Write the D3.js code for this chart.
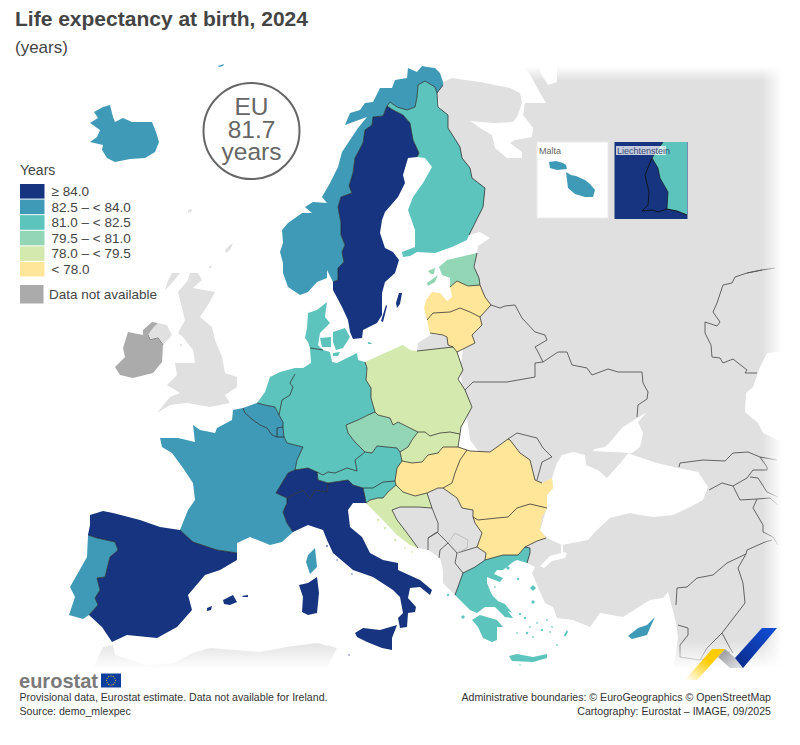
<!DOCTYPE html>
<html>
<head>
<meta charset="utf-8">
<script src="https://cdn.jsdelivr.net/npm/d3@7"></script>
<style>
  body { margin: 0; background: #fff; }
  text { font-family: "Liberation Sans", Arial, sans-serif; }
</style>
</head>
<body>
<svg id="map" width="800" height="745"></svg>
<script>
/* DATA */
const countryCodes = ["SE","ES","IT","CH","LI","NO","IS","FR","BE","LU","PT","MT","CY","DE","NL","DK","AT","SI","FI","EL","CZ","EE","PL","SK","HR","LV","LT","HU","RO","BG","IE"];
const lifeExpectancy = [84.1,84.0,84.1,84.3,84.4,83.6,83.0,83.0,82.6,83.5,82.7,83.5,83.4,81.5,82.4,81.9,81.9,82.2,82.2,81.8,80.0,79.6,79.0,78.9,78.9,76.6,77.8,77.1,76.6,75.9,null];
const classBreaks = [78, 79.5, 81, 82.5, 84];
const classColors = ["#ffe699","#d3e9ae","#93d6b5","#5cc4bd","#3f9ab7","#16347f"];
const legendLabels = ["≥ 84.0","82.5 – < 84.0","81.0 – < 82.5","79.5 – < 81.0","78.0 – < 79.5","< 78.0"];
const noDataColor = "#ababab";
const landColor = "#e0e0e0";

/* SHARED BORDERS, in map units */
const NO_SE = [[387,106],[383,116],[373,117],[372,125],[365,130],[363,143],[355,158],[353,173],[349,186],[352,193],[341,197],[338,207],[341,223],[341,235],[345,245],[342,252],[344,262],[338,268],[338,280],[333,282]];
const SE_FI = [[417,157],[419,153],[413,140],[410,123],[403,115],[393,110],[387,106]];
const FI_NO = [[387,106],[390,102],[397,107],[407,110],[415,107],[417,97],[418,85],[425,81],[435,87],[437,93]];
const NO_RU = [[437,93],[443,85]];
const FI_RU = [[437,93],[438,107],[448,115],[448,128],[460,147],[462,158],[470,168],[472,178],[485,188],[483,207],[469,235]];
const DK_DE = [[310,348],[323,350]];
const DE_PL = [[365,362],[367,368],[366,380],[371,388],[371,398],[375,412]];
const DE_CZ = [[375,412],[368,415],[358,420],[346,425],[348,433],[355,442],[365,452]];
const DE_AT = [[365,452],[355,460],[357,471],[347,468],[335,473],[328,472],[323,475],[317,472]];
const DE_CH = [[317,472],[308,468],[295,470]];
const DE_FR = [[295,470],[297,460],[303,447],[287,443],[284,437]];
const DE_LU = [[284,437],[283,427]];
const DE_BE = [[283,427],[283,422],[279,415]];
const DE_NL = [[279,415],[282,400],[290,395],[293,387],[290,383],[295,374]];
const BE_NL = [[257,403],[265,405],[275,407],[279,415]];
const BE_FR = [[243,408],[245,413],[253,420],[260,425],[267,428],[272,435],[277,437]];
const BE_LU = [[283,427],[277,428],[277,437]];
const LU_FR = [[277,437],[284,437]];
const ES_FR = [[180,530],[193,542],[217,550],[237,553]];
const ES_PT = [[88,535],[97,538],[115,542],[118,550],[110,557],[105,577],[97,578],[100,590],[95,598],[98,605],[89,615]];
const FR_IT = [[293,532],[287,523],[283,512],[287,503],[287,498]];
const FR_CH = [[295,470],[288,473],[276,493],[287,498]];
const CH_IT = [[287,498],[303,490],[310,499],[315,490],[327,492],[328,483]];
const CH_AT = [[328,483],[318,480],[317,472]];
const IT_AT = [[328,483],[348,480],[353,485],[363,488]];
const IT_SI = [[363,488],[365,497],[366,503]];
const AT_CZ = [[365,452],[372,453],[377,446],[397,448],[400,452]];
const AT_SK = [[400,452],[402,461]];
const AT_HU = [[402,461],[397,468],[395,481]];
const AT_SI = [[395,481],[383,482],[373,488],[363,488]];
const CZ_PL = [[375,412],[378,415],[390,418],[393,425],[398,422],[408,427],[418,432]];
const CZ_SK = [[418,432],[412,440],[408,447],[400,452]];
const SK_PL = [[418,432],[425,432],[430,436],[440,433],[450,432],[460,434]];
const SK_UA = [[460,434],[458,447]];
const HU_SK = [[402,461],[412,463],[422,462],[428,455],[438,453],[443,447],[453,447],[458,447]];
const HU_UA = [[458,447],[467,450]];
const HU_RO = [[467,450],[460,460],[455,473],[452,483],[443,488]];
const HU_RS = [[443,488],[438,488],[427,493]];
const HU_HR = [[427,493],[415,496],[403,492],[396,485]];
const HU_SI = [[396,485],[395,481]];
const SI_HR = [[366,503],[370,500],[378,498],[383,498],[388,492],[396,485]];
const HR_RS = [[427,493],[432,508]];
const HR_BA = [[432,508],[418,507],[400,507],[392,510],[397,520],[407,533],[418,548]];
const RO_UA = [[467,450],[470,451],[490,452],[497,447],[508,439]];
const RO_MD = [[508,439],[510,440],[520,453],[530,460],[535,480],[542,483]];
const RO_RS = [[443,488],[457,498],[462,508],[473,510],[473,517]];
const RO_BG = [[547,508],[530,504],[517,508],[508,517],[497,518],[478,520],[473,517]];
const BG_RS = [[477,547],[482,533],[475,523],[473,517]];
const BG_MK = [[485,560],[486,553],[477,547]];
const BG_GR = [[525,547],[518,555],[503,555],[485,560]];
const BG_TR = [[546,538],[537,541],[525,547]];
const GR_TR = [[525,547],[530,548],[530,553],[527,563]];
const GR_MK = [[463,573],[475,567],[485,560]];
const GR_AL = [[463,573],[455,595]];
const PL_RU = [[417,351],[453,347]];
const PL_LT = [[453,347],[457,352]];
const PL_BY = [[457,352],[463,370],[458,379],[465,390]];
const PL_UA = [[465,390],[472,407],[461,427],[460,434]];
const LT_LV = [[427,320],[433,313],[450,312],[460,308],[470,312],[480,317]];
const LT_RU = [[430,333],[443,335],[447,337],[448,345],[453,347]];
const LT_BY = [[457,352],[467,347],[475,343],[472,335],[482,325],[480,317]];
const LV_EE = [[450,287],[457,281],[468,286],[480,285]];
const LV_RU = [[480,285],[485,297],[491,305]];
const LV_BY = [[491,305],[480,317]];
const EE_RU = [[477,253],[474,267],[479,278],[480,285]];

const rev = a => a.slice().reverse();

// coast pieces join the borders above into closed rings
const countryRings = {
  SE: [[...NO_SE, [333,290],[342,307],[348,320],[350,332],[353,339],[362,338],[363,330],[377,323],[382,315],[382,293],[385,282],[395,273],[399,260],[393,252],[385,248],[380,233],[382,220],[385,212],[398,197],[405,183],[403,175],[408,158], ...SE_FI],
       [[399,293],[402,293],[400,304],[397,308],[396,303]], [[386,305],[387,306],[383,322],[381,321]]],
  FI: [[...FI_NO, ...FI_RU, [467,240],[452,247],[435,253],[417,252],[410,256],[403,257],[402,252],[415,247],[415,230],[408,210],[413,197],[423,183],[432,167],[425,158], ...SE_FI]],
  NO: [[[443,85],[443,82],[440,73],[435,68],[427,67],[422,66],[417,72],[408,68],[407,78],[395,80],[392,88],[380,88],[373,102],[365,103],[360,110],[350,113],[345,125],[367,117],[358,128],[350,140],[342,152],[338,167],[330,183],[322,197],[327,203],[313,202],[305,207],[312,213],[302,213],[288,223],[282,230],[283,243],[280,252],[283,263],[283,273],[288,287],[300,295],[308,292],[317,282],[327,278],[327,270],[333,282], ...rev(NO_SE), ...FI_NO, ...NO_RU],
       [[218,66],[224,64],[223,66],[219,67]]],
  IS: [[[94,112],[103,107],[110,105],[113,117],[115,122],[123,118],[132,122],[143,122],[152,122],[156,132],[159,142],[155,152],[145,158],[130,159],[115,162],[107,158],[102,150],[103,145],[90,142],[97,137],[100,130],[90,123],[98,118]]],
  DK: [[[327,302],[325,317],[330,323],[320,333],[318,345],[323,350],[310,348],[308,342],[305,338],[307,328],[308,313],[317,310]],
       [[320,338],[331,337],[331,347],[322,347]], [[333,332],[345,328],[350,337],[343,348],[336,350],[333,342]], [[368,342],[372,343],[371,344],[368,344]], [[333,353],[340,352],[338,356],[333,356]]],
  DE: [[...DK_DE, [330,352],[332,362],[337,363],[353,355],[357,353],[358,360], ...DE_PL, ...DE_CZ, ...DE_AT, ...DE_CH, ...DE_FR, ...DE_LU, ...DE_BE, ...DE_NL, [295,368],[303,368],[311,363]]],
  NL: [[[295,368],[280,372],[270,377],[265,392],[257,403], ...BE_NL, ...DE_NL]],
  BE: [[[243,408], ...BE_NL, ...DE_BE.slice().reverse(), ...BE_LU, ...rev(BE_FR)]],
  LU: [[...BE_LU, [284,437]]],
  FR: [[[243,408],[233,410],[232,420],[217,428],[215,433],[200,430],[193,425],[195,442],[178,438],[160,438],[162,447],[172,453],[183,468],[193,483],[195,500],[188,510], ...ES_FR, [237,543],[250,537],[270,545],[282,542], ...FR_IT, ...rev(FR_CH), ...DE_FR, ...rev(LU_FR), ...rev(BE_FR)],
       [[315,548],[317,567],[310,574],[306,562],[308,555]]],
  CH: [[...DE_CH, ...FR_CH.slice(1), ...CH_IT, ...CH_AT]],
  LI: [[[317,474],[318,474],[318,476],[317,476]]],
  ES: [[[180,530],[160,527],[140,520],[113,513],[103,511],[90,515],[90,525], ...ES_PT, [102,627],[112,642],[127,635],[157,638],[177,627],[192,610],[188,595],[205,575],[220,570],[237,560], ...rev(ES_FR)],
       [[223,600],[233,595],[237,602],[230,605],[224,604]], [[242,596],[248,595],[248,597],[243,597]], [[207,608],[212,606],[211,610],[207,611]]],
  PT: [[...ES_PT, [83,619],[69,615],[75,597],[70,587],[87,557]]],
  IT: [[...FR_IT, ...CH_IT, ...IT_AT, ...IT_SI, [353,503],[348,510],[350,527],[362,537],[370,553],[383,560],[398,563],[398,570],[420,580],[432,590],[430,595],[420,587],[410,588],[408,598],[416,607],[415,612],[408,613],[407,627],[400,628],[398,618],[403,613],[400,597],[393,590],[373,577],[353,570],[333,553],[327,540],[323,530],[308,525]],
       [[355,633],[363,628],[380,630],[397,625],[392,638],[392,650],[382,648],[367,642],[357,637]],
       [[317,577],[319,593],[317,613],[308,615],[302,612],[303,597],[299,585],[308,583]]],
  AT: [[...rev(DE_AT), ...AT_CZ, ...AT_SK, ...AT_HU, ...AT_SI, ...rev(IT_AT), ...CH_AT]],
  SI: [[...AT_SI, ...IT_SI, ...SI_HR, ...HU_SI]],
  HR: [[...rev(HU_HR), ...HR_RS, ...HR_BA, [410,545],[397,535],[380,517],[375,512], ...SI_HR]],
  CZ: [[...CZ_PL, ...CZ_SK, ...rev(AT_CZ), ...rev(DE_CZ)]],
  SK: [[...SK_PL, ...SK_UA, ...rev(HU_SK), ...rev(AT_SK), ...rev(CZ_SK)]],
  PL: [[[365,362],[387,352],[403,345],[410,350], ...PL_RU, ...PL_LT, ...PL_BY, ...PL_UA, ...rev(SK_PL), ...rev(CZ_PL), ...rev(DE_PL)]],
  HU: [[...HU_SK, ...HU_UA, ...HU_RO, ...HU_RS, ...HU_HR, ...HU_SI, ...rev(AT_HU)]],
  RO: [[...RO_UA, ...RO_MD, [552,478],[553,488],[547,495], ...RO_BG, ...rev(RO_RS), ...rev(HU_RO)]],
  BG: [[...rev(RO_BG), [542,517],[540,530], ...BG_TR, ...BG_GR, ...BG_MK, ...BG_RS]],
  EL: [[...GR_MK, ...rev(BG_GR), ...GR_TR, [517,560],[513,562],[503,570],[497,570],[494,574],[503,578],[500,582],[492,579],[487,577],[487,583],[492,595],[497,600],[507,610],[513,618],[505,617],[495,607],[485,607],[477,613],[470,610],[460,600],[455,595]],
       [[472,620],[480,615],[497,620],[503,627],[497,627],[497,640],[492,642],[483,638],[478,627]],
       [[509,656],[517,654],[533,657],[547,654],[547,658],[533,662],[512,661]],
       [[495,600],[505,604],[512,613],[506,610]], [[567,630],[568,632],[565,637],[564,635]]],
  LT: [[...LT_LV, ...rev(LT_BY), ...rev(PL_LT), ...rev(LT_RU), [429,330]]],
  LV: [[[450,287], ...LV_EE.slice(1), ...LV_RU, ...LV_BY, ...rev(LT_LV), [424,308],[426,300],[432,292],[440,293],[447,301],[452,297]]],
  EE: [[[439,267],[447,260],[477,253], ...EE_RU.slice(1), ...rev(LV_EE), [450,278],[442,275]],
       [[427,283],[438,275],[435,282],[428,286]], [[428,271],[435,268],[434,274],[431,274]]],
  IE: [[[143,330],[152,322],[158,323],[153,328],[148,335],[150,340],[158,338],[163,345],[162,362],[153,373],[133,378],[120,375],[115,367],[125,357],[123,348],[128,332],[143,335]]],
  CY: [[[655,617],[650,628],[647,635],[632,639],[628,636],[638,628],[647,625]]]
};

// little islands: x, y, radius
const islandDots = {
  EL: [[463,617,2],[448,595,1.5],[508,568,2],[518,579,1.5],[495,587,1],[533,588,3],[533,602,2],[520,614,1.5],[525,618,1.5],[530,627,1],[537,623,1],[547,620,1],[552,627,1],[517,633,1],[527,633,1.5],[533,637,1],[542,630,1.5],[550,632,1],[557,645,1],[520,665,.8]],
  HR: [[378,520,1.5],[385,528,1.5],[395,540,1.5],[405,548,1],[412,552,1]],
  IT: [[327,546,1],[337,560,.8],[349,655,.8],[352,574,.8]],
  FI: [[406,253,1.5],[411,254,1.5]]
};

// everything else, grey context
const eastLand = [[437,93],[443,82],[452,78],[465,80],[480,82],[495,85],[510,88],[520,93],[522,103],[517,117],[513,122],[493,123],[470,121],[480,128],[492,135],[495,148],[507,158],[522,158],[522,152],[510,143],[515,140],[532,137],[533,128],[523,115],[525,103],[546,103],[540,93],[533,80],[526,68],[540,66],[540,72],[548,85],[557,82],[557,60],[800,60],[800,668],[673,668],[676,653],[678,637],[676,623],[672,607],[668,592],[663,598],[650,600],[623,617],[600,613],[590,627],[573,620],[557,618],[553,607],[545,603],[540,592],[532,573],[535,567],[527,563],[520,530],[500,480],[470,440],[460,370],[477,253],[478,246],[490,238],[480,232],[469,235],[450,150]];
const blackSea = [[552,478],[557,463],[562,455],[573,452],[585,455],[586,465],[598,470],[607,478],[623,460],[628,453],[633,455],[657,463],[678,468],[698,472],[708,487],[703,500],[690,507],[673,515],[653,517],[640,515],[630,513],[610,518],[597,530],[588,540],[562,545],[547,538],[540,530],[547,507],[547,495],[553,488]];
const azovSea = [[647,412],[638,422],[643,433],[640,447],[632,453],[593,451],[594,449],[605,447],[610,442],[623,427]];
const marmara = [[561,545],[563,545],[563,552],[567,553],[565,558],[552,561],[544,568],[540,566],[550,556],[561,553]];
const caspian = [[800,350],[767,353],[760,367],[753,387],[746,393],[745,412],[758,423],[763,433],[778,440],[800,440]];
const africa = [[93,668],[103,647],[113,645],[115,655],[147,665],[173,663],[193,653],[210,648],[260,652],[287,647],[317,643],[337,648],[327,668]];
const balkans = [[392,510],[400,507],[418,507],[432,508],[427,493],[438,488],[443,488],[457,498],[462,508],[473,510],[473,517],[475,523],[482,533],[477,547],[486,553],[485,560],[475,567],[463,573],[455,595],[443,583],[443,570],[440,558],[428,550],[418,548],[407,533],[397,520]];
const kaliningrad = [[418,343],[432,334],[447,336],[452,347],[417,351]];
const britain = [[190,273],[198,273],[202,280],[193,288],[215,292],[208,305],[200,317],[212,327],[215,340],[222,357],[225,373],[237,377],[237,387],[225,395],[230,403],[210,407],[187,403],[170,405],[157,413],[170,397],[180,393],[167,385],[177,375],[175,363],[195,363],[193,350],[183,337],[178,333],[185,320],[182,308],[178,292],[188,280]];
const northIreland = [[153,328],[158,323],[167,325],[172,335],[163,345],[158,338],[150,340],[148,335]];
const hebrides = [[172,273],[180,273],[172,283],[165,290],[167,283]];
const paleIslands = [[[188,210],[192,209],[191,212],[188,213]],[[225,250],[230,245],[233,243],[230,250],[226,253]],[[208,267],[212,265],[211,268]],[[180,344],[182,344],[181,347]]];

// land borders outside the EU
const greyBorders = [
  [[491,305],[500,308],[505,306],[515,305],[522,318],[535,332],[545,335],[547,340],[535,347],[537,350],[543,362],[558,352],[567,352],[572,365],[587,368],[592,375],[608,369],[618,372],[642,372],[643,383],[648,392],[647,399],[638,405],[637,417]],
  [[543,362],[535,363],[535,377],[507,382],[473,382],[465,390]],
  [[508,439],[517,433],[537,438],[543,448],[552,457],[542,462],[537,480]],
  [[762,270],[747,273],[735,277],[732,283],[723,285],[717,303],[713,312],[720,322],[717,326],[705,322],[705,333],[711,345],[712,357],[720,358],[723,363],[733,359],[747,370],[745,373],[757,373]],
  [[747,273],[762,270],[775,268]],
  [[679,467],[680,463],[703,460],[725,461],[733,453],[748,452],[760,457],[777,460]],
  [[760,457],[767,467],[767,470],[753,470],[747,478],[733,486]],
  [[709,490],[722,483],[733,486],[740,500],[757,499],[753,508],[763,525],[763,532],[773,537],[778,545]],
  [[750,477],[758,478],[767,492],[778,497]],
  [[757,499],[770,498],[778,505]],
  [[676,605],[677,588],[687,587],[697,578],[713,575],[727,563],[746,554],[747,550],[765,542],[772,540]],
  [[746,554],[738,568],[743,583],[745,603],[722,633],[707,648],[700,660]],
  [[678,625],[688,628],[688,635],[680,645],[680,657],[700,660],[730,652]],
  [[722,633],[730,648],[733,653]],
  [[438,523],[438,532],[428,538],[428,550]],
  [[432,508],[438,523]],
  [[477,547],[467,550],[457,553],[455,563],[463,573]],
  [[428,538],[437,532],[448,543],[440,550],[439,558]],
  [[457,553],[448,543]],
  [[143,335],[148,335],[150,340],[158,338],[163,345]],
  [[143,330],[148,335]]
];
const kosovoBorder = [[448,543],[455,533],[468,540],[467,548],[457,553]];

const euBorders = [NO_SE,SE_FI,FI_NO,NO_RU,FI_RU,DK_DE,DE_PL,DE_CZ,DE_AT,DE_CH,DE_FR,DE_LU,DE_BE,DE_NL,BE_NL,BE_FR,BE_LU,LU_FR,ES_FR,ES_PT,FR_IT,FR_CH,CH_IT,CH_AT,IT_AT,IT_SI,AT_CZ,AT_SK,AT_HU,AT_SI,CZ_PL,CZ_SK,SK_PL,SK_UA,HU_SK,HU_UA,HU_RO,HU_RS,HU_HR,HU_SI,SI_HR,HR_RS,HR_BA,RO_UA,RO_MD,RO_RS,RO_BG,BG_RS,BG_MK,BG_GR,BG_TR,GR_TR,GR_MK,GR_AL,PL_RU,PL_LT,PL_BY,PL_UA,LT_LV,LT_RU,LT_BY,LV_EE,LV_RU,LV_BY,EE_RU];

/* SCALES AND HELPERS */
const color = d3.scaleThreshold().domain(classBreaks).range(classColors);
const fillOf = code => {
  const v = lifeExpectancy[countryCodes.indexOf(code)];
  return v == null ? noDataColor : color(v);
};
const path = d3.geoPath(d3.geoIdentity());
const polygon = rings => ({type: "MultiPolygon", coordinates: rings.map(r => [[...r, r[0]]])});
const diamond = ([x, y, r]) => [[x - r, y], [x, y - r], [x + r, y], [x, y + r]];

const svg = d3.select("#map");
const defs = svg.append("defs");

function fade(id, x1, y1, x2, y2) {
  const g = defs.append("linearGradient").attr("id", id)
    .attr("x1", x1).attr("y1", y1).attr("x2", x2).attr("y2", y2);
  g.append("stop").attr("offset", 0).attr("stop-color", "#fff").attr("stop-opacity", 0);
  g.append("stop").attr("offset", 1).attr("stop-color", "#fff").attr("stop-opacity", 1);
}
fade("fadeTop", 0, 1, 0, 0);
fade("fadeRight", 0, 0, 1, 0);
fade("fadeBottom", 0, 0, 0, 1);

/* BACKGROUND */
const back = svg.append("g");
const drawFill = (g, rings, fill) => g.append("path").attr("d", path(polygon(rings))).attr("fill", fill);

drawFill(back, [eastLand, balkans, kaliningrad, africa, britain, northIreland, hebrides, ...paleIslands], landColor);
drawFill(back, [blackSea, azovSea, marmara, caspian], "#fff");

back.selectAll(".grey-border")
  .data(greyBorders)
  .enter()
  .append("path")
    .attr("class", "grey-border")
    .attr("d", d => path({type: "LineString", coordinates: d}))
    .attr("fill", "none")
    .attr("stroke", "#555")
    .attr("stroke-width", 0.9);

back.append("path")
  .attr("d", path({type: "LineString", coordinates: kosovoBorder}))
  .attr("fill", "none").attr("stroke", "#bbb").attr("stroke-width", 0.9);

// map edges melt into the page
back.append("rect").attr("x", 520).attr("y", 66).attr("width", 280).attr("height", 15).attr("fill", "url(#fadeTop)");
back.append("rect").attr("x", 520).attr("y", 58).attr("width", 280).attr("height", 8).attr("fill", "#fff");
back.append("rect").attr("x", 762).attr("y", 58).attr("width", 20).attr("height", 612).attr("fill", "url(#fadeRight)");
back.append("rect").attr("x", 782).attr("y", 58).attr("width", 18).attr("height", 612).attr("fill", "#fff");
back.append("rect").attr("x", 80).attr("y", 640).attr("width", 720).attr("height", 29).attr("fill", "url(#fadeBottom)");

/* COUNTRIES */
const countries = svg.append("g");

countries.selectAll(".country")
  .data(countryCodes.filter(c => countryRings[c]))
  .enter()
  .append("path")
    .attr("class", "country")
    .attr("d", c => path(polygon([...countryRings[c], ...(islandDots[c] || []).map(diamond)])))
    .attr("fill", fillOf);

countries.selectAll(".border")
  .data(euBorders)
  .enter()
  .append("path")
    .attr("class", "border")
    .attr("d", d => path({type: "LineString", coordinates: d}))
    .attr("fill", "none")
    .attr("stroke", "#222")
    .attr("stroke-opacity", 0.8)
    .attr("stroke-width", 0.9);

/* INSETS */
const maltaShape = [[[549,162],[556,161],[563,163],[566,165],[567,169],[557,170],[550,168]],[[566,172],[571,175],[576,176],[585,180],[590,184],[595,190],[593,197],[585,197],[575,194],[568,188],[567,180]]];
const liTeal = [[663,142],[687,142],[687,215],[677,211],[667,209],[668,192],[660,178],[658,168],[652,158]];
const liBorder = [[652,158],[645,175],[649,192],[648,205],[642,211],[653,210],[658,212],[667,209]];

const insets = svg.append("g");
insets.append("rect").attr("x", 537).attr("y", 142).attr("width", 71).attr("height", 76)
  .attr("fill", "#fff").attr("stroke", "#ececec");
drawFill(insets, maltaShape, fillOf("MT"));
insets.append("rect").attr("x", 614.5).attr("y", 142).attr("width", 73).attr("height", 77)
  .attr("fill", fillOf("LI"));
drawFill(insets, [liTeal], fillOf("AT"));
insets.append("path").attr("d", path({type: "LineString", coordinates: [...liBorder, [677,211],[687,215]]}))
  .attr("fill", "none").attr("stroke", "#111").attr("stroke-width", 0.9);
insets.append("path").attr("d", path({type: "LineString", coordinates: [[663,142],[652,158],[658,168],[660,178],[668,192],[667,209]]}))
  .attr("fill", "none").attr("stroke", "#111").attr("stroke-width", 0.9).attr("stroke-opacity", 0.7);
insets.append("text").attr("x", 539).attr("y", 154).attr("font-size", 9).attr("fill", "#666").text("Malta");
insets.append("rect").attr("x", 616).attr("y", 146).attr("width", 50).attr("height", 9).attr("fill", "#fff").attr("opacity", 0.75);
insets.append("text").attr("x", 617).attr("y", 154).attr("font-size", 9).attr("fill", "#3a4a78").text("Liechtenstein");

/* TITLE, EU BADGE */
svg.append("text").attr("x", 15).attr("y", 26).attr("font-size", 21).attr("font-weight", 700).attr("fill", "#444")
  .text("Life expectancy at birth, 2024");
svg.append("text").attr("x", 15).attr("y", 53).attr("font-size", 17).attr("fill", "#444").text("(years)");

svg.append("circle").attr("cx", 251.5).attr("cy", 131).attr("r", 48).attr("fill", "#fff")
  .attr("stroke", "#666").attr("stroke-width", 2);
[["EU", 115], ["81.7", 138], ["years", 160]].forEach(([t, y]) => {
  svg.append("text").attr("x", 251.5).attr("y", y).attr("text-anchor", "middle")
    .attr("font-size", 24.5).attr("fill", "#666").text(t);
});

/* LEGEND */
const legend = svg.append("g");
legend.append("text").attr("x", 20).attr("y", 175).attr("font-size", 14).attr("fill", "#444").text("Years");

const legendColors = classColors.slice().reverse();
const legendRow = d3.scaleBand().domain(d3.range(6)).range([184, 277.5]);

legend.selectAll(".swatch")
  .data(legendLabels)
  .enter()
  .append("rect")
    .attr("class", "swatch")
    .attr("x", 20)
    .attr("y", (d, i) => legendRow(i))
    .attr("width", 24.5)
    .attr("height", legendRow.bandwidth() - 1)
    .attr("fill", (d, i) => legendColors[i]);

legend.selectAll(".swatch-label")
  .data(legendLabels)
  .enter()
  .append("text")
    .attr("class", "swatch-label")
    .attr("x", 51.5)
    .attr("y", (d, i) => legendRow(i) + 12)
    .attr("font-size", 13.5)
    .attr("fill", "#444")
    .text(d => d);

legend.append("rect").attr("x", 20).attr("y", 285).attr("width", 23.5).attr("height", 18.5).attr("fill", noDataColor);
legend.append("text").attr("x", 49).attr("y", 299).attr("font-size", 13.5).attr("fill", "#444").text("Data not available");

/* EUROSTAT LOGO AND FOOTER */
const ribbon = defs.append("linearGradient").attr("id", "ribbonYellow").attr("x1", 1).attr("y1", 0).attr("x2", 0).attr("y2", 1);
ribbon.append("stop").attr("offset", 0.4).attr("stop-color", "#ffcc00");
ribbon.append("stop").attr("offset", 1).attr("stop-color", "#ffcc00").attr("stop-opacity", 0);
const ribbonGrey = defs.append("linearGradient").attr("id", "ribbonGrey").attr("x1", 0).attr("y1", 0).attr("x2", 1).attr("y2", 1);
ribbonGrey.append("stop").attr("offset", 0).attr("stop-color", "#8f8f8f");
ribbonGrey.append("stop").attr("offset", 1).attr("stop-color", "#e4e7ee");
const ribbonBlue = defs.append("linearGradient").attr("id", "ribbonBlue").attr("x1", 1).attr("y1", 0).attr("x2", 0).attr("y2", 1);
ribbonBlue.append("stop").attr("offset", 0).attr("stop-color", "#1250d8");
ribbonBlue.append("stop").attr("offset", 1).attr("stop-color", "#0a2a88");

drawFill(svg, [[[725,649],[718,657],[730,668],[743,668],[735,658]]], "url(#ribbonGrey)");
drawFill(svg, [[[712,649],[725,649],[697,680],[685,680]]], "url(#ribbonYellow)");
drawFill(svg, [[[762,628],[777,628],[743,668],[735,658]]], "url(#ribbonBlue)");

svg.append("text").attr("x", 19).attr("y", 688).attr("font-size", 21).attr("font-weight", 700)
  .attr("fill", "#7a7a7a").attr("textLength", 79).attr("lengthAdjust", "spacingAndGlyphs").text("eurostat");
svg.append("rect").attr("x", 101).attr("y", 673.5).attr("width", 20).attr("height", 14).attr("fill", "#0f3f9e");
svg.selectAll(".star")
  .data(d3.range(12))
  .enter()
  .append("circle")
    .attr("class", "star")
    .attr("cx", i => 111 + 4.5 * Math.cos(i * Math.PI / 6))
    .attr("cy", i => 680.5 + 4.5 * Math.sin(i * Math.PI / 6))
    .attr("r", 0.55)
    .attr("fill", "#ffcc00");

const footer = svg.append("g").attr("font-size", 10.6).attr("fill", "#333");
footer.append("text").attr("x", 19.5).attr("y", 701).text("Provisional data, Eurostat estimate. Data not available for Ireland.");
footer.append("text").attr("x", 19.5).attr("y", 715).text("Source: demo_mlexpec");
footer.append("text").attr("x", 771).attr("y", 701).attr("text-anchor", "end").text("Administrative boundaries: © EuroGeographics © OpenStreetMap");
footer.append("text").attr("x", 771).attr("y", 715).attr("text-anchor", "end").text("Cartography: Eurostat – IMAGE, 09/2025");
</script>
</body>
</html>
